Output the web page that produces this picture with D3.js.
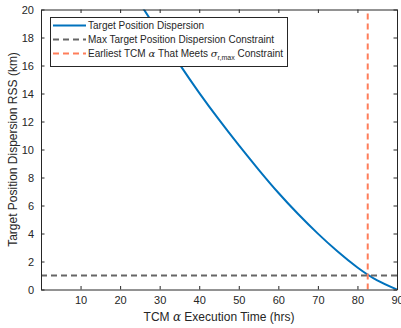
<!DOCTYPE html>
<html>
<head>
<meta charset="utf-8">
<script src="https://cdn.jsdelivr.net/npm/d3@7"></script>
<style>
  body { margin: 0; background: #fff; }
  text { font-family: "Liberation Sans", Arial, sans-serif; fill: #262626; }
</style>
</head>
<body>
<svg id="chart" width="401" height="328"></svg>
<script>
// TCM alpha execution time (hrs) vs target position dispersion RSS (km)
var hours = [25, 30, 35, 40, 45, 50, 55, 60, 65, 70, 75, 80, 85, 90];
var rss = [20.45, 18.25, 16.1, 14.05, 12.13, 10.31, 8.57, 6.91, 5.39, 3.99, 2.71, 1.57, 0.65, 0];
var maxConstraint = 1;
var earliestTime = 82.6;
var xTicks = [10, 20, 30, 40, 50, 60, 70, 80, 90];
var yTicks = [0, 2, 4, 6, 8, 10, 12, 14, 16, 18, 20];

var margin = { left: 41, right: 4, top: 9.5, bottom: 38.5 };
var W = 401, H = 328;

var svg = d3.select('#chart');

var x = d3.scaleLinear().domain([0, 90]).range([margin.left, W - margin.right]);
var y = d3.scaleLinear().domain([0, 20]).range([H - margin.bottom, margin.top]);

svg.append('defs').append('clipPath').attr('id', 'plotclip')
	.append('rect')
	.attr('x', x(0)).attr('y', y(20))
	.attr('width', x(90) - x(0)).attr('height', y(0) - y(20));

var plot = svg.append('g').attr('clip-path', 'url(#plotclip)');

// curve
var pts = hours.map(function(h, i) { return [h, rss[i]]; });
plot.append('path')
	.datum(pts)
	.attr('fill', 'none')
	.attr('stroke', '#0072BD')
	.attr('stroke-width', 2)
	.attr('d', d3.line()
		.x(function(d) { return x(d[0]); })
		.y(function(d) { return y(d[1]); })
		.curve(d3.curveNatural));

// max constraint
plot.append('line')
	.attr('x1', x(0)).attr('x2', x(90))
	.attr('y1', y(maxConstraint)).attr('y2', y(maxConstraint))
	.attr('stroke', '#666666').attr('stroke-width', 2)
	.attr('stroke-dasharray', '6,4');

// earliest TCM
plot.append('line')
	.attr('x1', x(earliestTime)).attr('x2', x(earliestTime))
	.attr('y1', y(0)).attr('y2', y(20))
	.attr('stroke', '#FF7E5A').attr('stroke-width', 2)
	.attr('stroke-dasharray', '6,4');

// axes, MATLAB style: ticks inside, box on
var axisColor = '#262626';
var xB = d3.axisBottom(x).tickValues(xTicks).tickSizeInner(-3.5).tickSizeOuter(0).tickPadding(7);
var xT = d3.axisTop(x).tickValues(xTicks).tickSizeInner(-3.5).tickSizeOuter(0).tickFormat('');
var yL = d3.axisLeft(y).tickValues(yTicks).tickSizeInner(-3.5).tickSizeOuter(0).tickPadding(7);
var yR = d3.axisRight(y).tickValues(yTicks).tickSizeInner(-3.5).tickSizeOuter(0).tickFormat('');

function style(g) {
	g.selectAll('.domain').attr('stroke', axisColor).attr('stroke-width', 1);
	g.selectAll('.tick line').attr('stroke', axisColor);
	g.selectAll('.tick text').attr('font-size', 11).attr('fill', axisColor)
		.style('font-family', '"Liberation Sans", Arial, sans-serif');
}

svg.append('g').attr('transform', 'translate(0,' + y(0) + ')').call(xB).call(style);
svg.append('g').attr('transform', 'translate(0,' + y(20) + ')').call(xT).call(style);
svg.append('g').attr('transform', 'translate(' + x(0) + ',0)').call(yL).call(style);
svg.append('g').attr('transform', 'translate(' + x(90) + ',0)').call(yR).call(style);

// axis labels
var xl = svg.append('text')
	.attr('x', (x(0) + x(90)) / 2).attr('y', 321)
	.attr('text-anchor', 'middle').attr('font-size', 12);
xl.append('tspan').text('TCM ');
xl.append('tspan').attr('font-style', 'italic').attr('font-family', '"DejaVu Serif", serif').text('α');
xl.append('tspan').text(' Execution Time (hrs)');

svg.append('text')
	.attr('transform', 'translate(17,' + ((y(0) + y(20)) / 2) + ') rotate(-90)')
	.attr('text-anchor', 'middle').attr('font-size', 12)
	.text('Target Position Dispersion RSS (km)');

// legend
var lg = svg.append('g');
lg.append('rect')
	.attr('x', 50.5).attr('y', 17.5).attr('width', 237).attr('height', 49)
	.attr('fill', '#fff').attr('stroke', axisColor).attr('stroke-width', 1);

var entries = [
	{ color: '#0072BD', dash: null },
	{ color: '#666666', dash: '6,4' },
	{ color: '#FF7E5A', dash: '6,4' }
];
var rowY = [25.5, 39.5, 53.5];
entries.forEach(function(e, i) {
	lg.append('line')
		.attr('x1', 53).attr('x2', 86)
		.attr('y1', rowY[i]).attr('y2', rowY[i])
		.attr('stroke', e.color).attr('stroke-width', 2)
		.attr('stroke-dasharray', e.dash);
});

lg.append('text').attr('x', 88).attr('y', rowY[0] + 3.5).attr('font-size', 10)
	.text('Target Position Dispersion');
lg.append('text').attr('x', 88).attr('y', rowY[1] + 3.5).attr('font-size', 10)
	.text('Max Target Position Dispersion Constraint');
var t3 = lg.append('text').attr('x', 88).attr('y', rowY[2] + 3.5).attr('font-size', 10);
t3.append('tspan').text('Earliest TCM ');
t3.append('tspan').attr('font-style', 'italic').attr('font-family', '"DejaVu Serif", serif').text('α');
t3.append('tspan').text(' That Meets ');
t3.append('tspan').attr('font-style', 'italic').attr('font-family', '"DejaVu Serif", serif').text('σ');
t3.append('tspan').attr('font-size', 7).attr('dy', 2.5).text('r,max');
t3.append('tspan').attr('dy', -2.5).text(' Constraint');
</script>
</body>
</html>
